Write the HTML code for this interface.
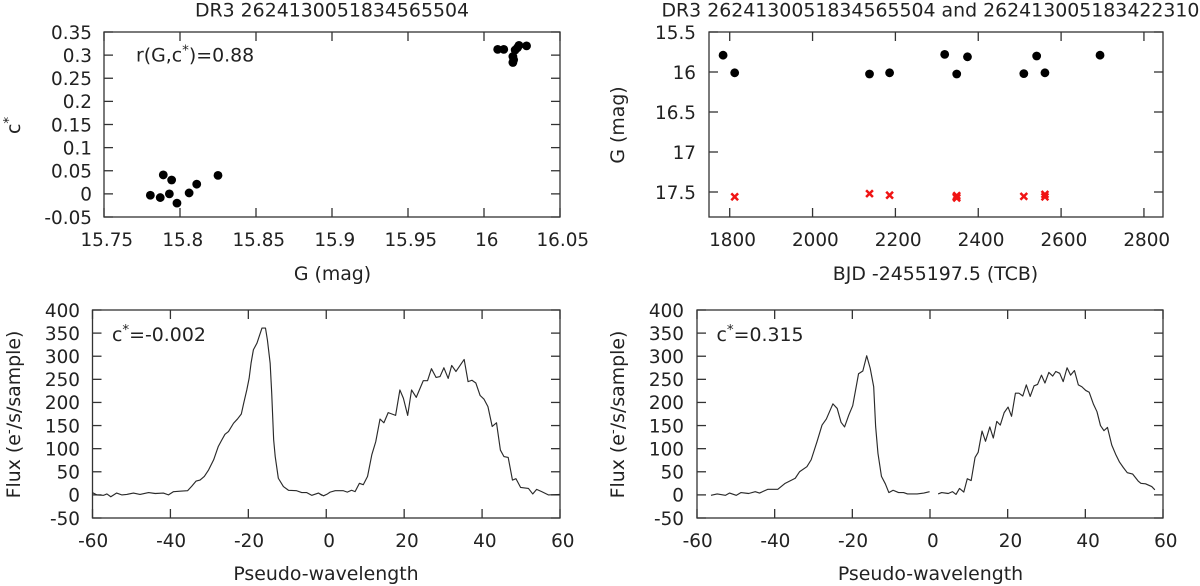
<!DOCTYPE html>
<html>
<head>
<meta charset="utf-8">
<title>Gaia DR3 photometry and spectra</title>
<style>
html,body{margin:0;padding:0;background:#fff;width:1200px;height:586px;overflow:hidden}
svg{display:block;font-family:"DejaVu Sans",sans-serif;fill:#222}
text{font-size:18.4px;fill:#222}
text.lab{font-size:18.9px}
.frame{fill:none;stroke:#333;stroke-width:1.3}
.tick{stroke:#333;stroke-width:1.3}
.spec{fill:none;stroke:#2a2a2a;stroke-width:1.15;stroke-linejoin:round}
.sup{font-size:13.5px}
</style>
</head>
<body>
<svg id="chart" xmlns="http://www.w3.org/2000/svg" width="1200" height="586" viewBox="0 0 1200 586">
  <text class="lab" x="332" y="16.5" text-anchor="middle">DR3 2624130051834565504</text>
  <text class="lab" x="661.5" y="16.5">DR3 2624130051834565504 and 2624130051834223104</text>

  <text class="lab" x="332.5" y="280" text-anchor="middle">G (mag)</text>
  <text class="lab" x="935.5" y="280" text-anchor="middle">BJD -2455197.5 (TCB)</text>
  <text class="lab" x="326" y="580" text-anchor="middle">Pseudo-wavelength</text>
  <text class="lab" x="930.5" y="580" text-anchor="middle">Pseudo-wavelength</text>

  <text class="lab" transform="translate(20,134) rotate(-90)">c<tspan class="sup" dy="-7">*</tspan></text>
  <text class="lab" transform="translate(624,125) rotate(-90)" text-anchor="middle">G (mag)</text>
  <text class="lab" transform="translate(20,414.5) rotate(-90)" text-anchor="middle">Flux (e<tspan class="sup" dy="-7">-</tspan><tspan dy="7">/s/sample)</tspan></text>
  <text class="lab" transform="translate(624,414.5) rotate(-90)" text-anchor="middle">Flux (e<tspan class="sup" dy="-7">-</tspan><tspan dy="7">/s/sample)</tspan></text>

  <text class="lab" x="136" y="61.5">r(G,c<tspan class="sup" dy="-7">*</tspan><tspan dy="7">)=0.88</tspan></text>
  <text class="lab" x="112" y="341">c<tspan class="sup" dy="-7">*</tspan><tspan dy="7">=-0.002</tspan></text>
  <text class="lab" x="716.5" y="341">c<tspan class="sup" dy="-7">*</tspan><tspan dy="7">=0.315</tspan></text>
</svg>
<script>
// Panel 1: colour index vs magnitude
const cmXTicks = ['15.75','15.8','15.85','15.9','15.95','16','16.05'];
const cmYTicks = ['0.35','0.3','0.25','0.2','0.15','0.1','0.05','0','-0.05'];
const cmG = [15.7805,15.787,15.789,15.793,15.7945,15.798,15.806,15.811,15.825,16.009,16.013,16.019,16.019,16.0195,16.0205,16.022,16.023,16.028];
const cmC = [-0.003,-0.008,0.041,0,0.03,-0.02,0.002,0.021,0.04,0.3125,0.3125,0.297,0.284,0.29,0.311,0.316,0.321,0.32];

// Panel 2: light curves
const lcXTicks = ['1800','2000','2200','2400','2600','2800'];
const lcYTicks = ['15.5','16','16.5','17','17.5'];
const lcTimeA = [1784,1812,2137.5,2186,2319,2348,2374,2510,2541,2561,2694];
const lcMagA = [15.79,16.01,16.025,16.01,15.78,16.025,15.81,16.02,15.8,16.01,15.79];
const lcTimeB = [1812,2137.5,2186,2348,2348,2347,2510,2561,2561];
const lcMagB = [17.56,17.52,17.54,17.545,17.575,17.56,17.555,17.53,17.56];

// Panels 3 and 4: spectra
const specXTicks = ['-60','-40','-20','0','20','40','60'];
const specYTicks = ['400','350','300','250','200','150','100','50','0','-50'];

const leftBlueWl = [-60,-58.9,-57.2,-56.3,-55.3,-53.8,-52.5,-51.2,-49.5,-47.8,-45.6,-43.9,-41.8,-40.5,-39.2,-37.5,-35.6,-34.5,-33.4,-32.4,-31.3,-30.2,-28.9,-27.7,-26.8,-26,-25.1,-23.8,-22.8,-21.8,-21.2,-20.4,-19.8,-19.3,-18.7,-17.8,-16.5,-15.6,-15.1,-14.4,-14,-13.5,-13.1,-12.3,-11,-9.7,-7.6,-6.3,-5,-3.7,-2,-1.1];
const leftBlueFlux = [5,0,-1,2,-4,4,0,1,4,1,5,3,4,0,7,8,9,19,30,32,40,54,76,105,119,131,137,155,164,175,198,227,252,285,314,328,361,361,335,285,220,119,83,36,18,10,9,5,5,-1,4,-1];
const leftRedWl = [-1.6,-0.7,0.3,1,2.3,4.4,5.4,6.5,7.4,8.5,9.5,10.6,11.7,12.7,13.8,14.8,15.9,17.8,18.9,19.8,20.9,21.9,23.1,24.9,26,27,28.2,29.2,30.2,31.3,32.2,33.3,35.4,36.4,37.4,38.4,39.5,40.5,41.5,42.6,43.7,44.7,45.6,46.7,47.8,48.7,49.9,51.9,53,54,55.3,57,60];
const leftRedFlux = [2,-2,2,6,9,9,6,10,7,25,22,40,87,115,164,156,178,172,227,209,172,227,211,247,247,273,254,256,275,252,280,267,293,245,248,242,215,207,191,148,156,97,83,81,32,35,16,14,2,12,7,0,1];

const rightBlueWl = [-56.4,-54.8,-52.7,-51.6,-49.9,-48.7,-46.7,-45,-43.9,-41.8,-39.2,-37.3,-34.7,-33.6,-31.7,-30.6,-29.1,-27.8,-26.7,-25,-23.9,-22.9,-22,-20.9,-19.9,-18.4,-17.3,-16.3,-15.4,-14.5,-14,-13.4,-12.5,-11.5,-10.6,-9.5,-8.1,-6.8,-5.8,-3.3,-1.6,-0.1];
const rightBlueFlux = [-1,2,-1,4,-1,5,3,7,4,12,12,25,36,50,61,76,115,151,164,197,187,157,147,173,193,262,268,301,274,234,148,90,40,24,5,10,5,5,2,2,4,7];
const rightRedWl = [2.1,3,4.7,5.8,6.7,7.6,8.7,9.6,10.6,11.6,12.4,13.4,14.3,15.4,16.3,17.2,18.1,19.1,20.1,21,22,22.9,23.9,24.8,25.8,26.8,27.7,28.7,29.6,30.6,31.6,32.4,33.4,34.3,35.3,36.2,37.2,38.2,39.1,40.1,41,42.1,43,43.9,44.8,45.7,46.8,47.8,48.8,49.8,50.8,52.2,53.6,54.3,55.5,57.1,57.9];
const rightRedFlux = [2,5,3,7,1,14,6,35,31,81,92,138,116,147,123,159,151,178,190,170,220,220,214,238,213,236,239,259,242,265,257,267,263,245,275,259,269,238,234,226,222,196,180,150,139,146,108,88,71,59,48,45,30,25,24,18,11];

const NS = 'http://www.w3.org/2000/svg';
const svg = document.getElementById('chart');

function make(tag, attrs) {
  const el = document.createElementNS(NS, tag);
  for (const k in attrs) el.setAttribute(k, attrs[k]);
  svg.appendChild(el);
  return el;
}
function scale(d0, d1, r0, r1) {
  return function (v) { return r0 + (v - d0) * (r1 - r0) / (d1 - d0); };
}

function drawAxes(prefix, box, sx, sy, xTicks, yTicks, xLabelY, yLabelX) {
  const frame = make('rect', {x: box.l, y: box.t, width: box.r - box.l, height: box.b - box.t, class: 'frame'});
  
  
  xTicks.forEach(function (label) {
    const px = sx(parseFloat(label));
    const t1 = make('line', {x1: px, x2: px, y1: box.b, y2: box.b - 9, class: 'tick'});
    
    
    const t2 = make('line', {x1: px, x2: px, y1: box.t, y2: box.t + 9, class: 'tick'});
    
    
    const nudge = label.charAt(0) === '-' ? 0.7 : 2.8;
    const txt = make('text', {x: px + nudge, y: xLabelY, 'text-anchor': 'middle'});
    txt.textContent = label;
    
    
  });
  yTicks.forEach(function (label) {
    const py = sy(parseFloat(label));
    const t1 = make('line', {x1: box.l, x2: box.l + 9, y1: py, y2: py, class: 'tick'});
    
    
    const t2 = make('line', {x1: box.r, x2: box.r - 9, y1: py, y2: py, class: 'tick'});
    
    
    const txt = make('text', {x: yLabelX, y: py + 6.8, 'text-anchor': 'end'});
    txt.textContent = label;
    
    
  });
}

function drawDots(name, xs, ys, sx, sy) {
  xs.forEach(function (x, i) {
    const c = make('circle', {cx: sx(x), cy: sy(ys[i]), r: 4.4, fill: '#000'});
    
    
  });
}

function drawCrosses(name, xs, ys, sx, sy) {
  xs.forEach(function (x, i) {
    const px = sx(x), py = sy(ys[i]), s = 3.4;
    const p = make('path', {
      d: 'M' + (px - s) + ' ' + (py - s) + 'L' + (px + s) + ' ' + (py + s) + 'M' + (px - s) + ' ' + (py + s) + 'L' + (px + s) + ' ' + (py - s),
      stroke: '#f01414', 'stroke-width': 2.5, fill: 'none'
    });
    
    
  });
}

function drawLine(name, xs, ys, sx, sy) {
  const pts = xs.map(function (x, i) { return sx(x).toFixed(2) + ',' + sy(ys[i]).toFixed(2); }).join(' ');
  const l = make('polyline', {points: pts, class: 'spec'});
  
  
}

// Panel 1
const box1 = {l: 104, r: 560, t: 32, b: 217};
const x1 = scale(15.75, 16.05, box1.l, box1.r);
const y1 = scale(-0.05, 0.35, box1.b, box1.t);
drawAxes('color-magnitude', box1, x1, y1, cmXTicks, cmYTicks, 246, 92);
drawDots('color-magnitude-point', cmG, cmC, x1, y1);

// Panel 2
const box2 = {l: 709, r: 1163, t: 32, b: 217};
const x2 = scale(1750, 2846, box2.l, box2.r);
const y2 = scale(15.5, 17.8125, box2.t, box2.b);
drawAxes('lightcurve', box2, x2, y2, lcXTicks, lcYTicks, 246, 696);
drawDots('lightcurve-point-primary', lcTimeA, lcMagA, x2, y2);
drawCrosses('lightcurve-point-secondary', lcTimeB, lcMagB, x2, y2);

// Panel 3
const box3 = {l: 92.5, r: 560, t: 310, b: 518};
const x3 = scale(-60, 60, box3.l, box3.r);
const y3 = scale(-50, 400, box3.b, box3.t);
drawAxes('spectrum-left', box3, x3, y3, specXTicks, specYTicks, 547, 80);
drawLine('spectrum-left-blue-line', leftBlueWl, leftBlueFlux, x3, y3);
drawLine('spectrum-left-red-line', leftRedWl, leftRedFlux, x3, y3);

// Panel 4
const box4 = {l: 697, r: 1163, t: 310, b: 518};
const x4 = scale(-60, 60, box4.l, box4.r);
const y4 = scale(-50, 400, box4.b, box4.t);
drawAxes('spectrum-right', box4, x4, y4, specXTicks, specYTicks, 547, 684);
drawLine('spectrum-right-blue-line', rightBlueWl, rightBlueFlux, x4, y4);
drawLine('spectrum-right-red-line', rightRedWl, rightRedFlux, x4, y4);
</script>
</body>
</html>
